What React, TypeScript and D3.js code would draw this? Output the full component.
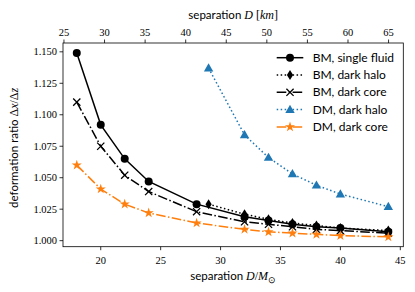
import React from "react";
import * as d3 from "d3";

const xBM = [18, 20, 22, 24, 28, 32, 34, 36, 38, 40, 44];
const bmSingle = [1.149, 1.092, 1.065, 1.047, 1.029, 1.019, 1.016, 1.013, 1.011, 1.010, 1.007];
const bmCore = [1.110, 1.075, 1.052, 1.039, 1.023, 1.015, 1.013, 1.011, 1.009, 1.008, 1.006];
const dmCore = [1.060, 1.041, 1.029, 1.022, 1.014, 1.009, 1.007, 1.006, 1.005, 1.004, 1.003];
const xHalo = [29, 32, 34, 36, 38, 40, 44];
const bmHalo = [1.029, 1.021, 1.017, 1.014, 1.012, 1.010, 1.008];
const dmHalo = [1.137, 1.084, 1.066, 1.053, 1.044, 1.037, 1.027];

const xTicks = [20, 25, 30, 35, 40, 45];
const kmTicks = [25, 30, 35, 40, 45, 50, 55, 60, 65];
const yTicks = [1.0, 1.025, 1.05, 1.075, 1.1, 1.125, 1.15];
const KM_PER_MSUN = 1.4766;

const BLUE = "#1f77b4";
const ORANGE = "#ff7f0e";

type Series = {
  name: string;
  xs: number[];
  ys: number[];
  color: string;
  dash: string;
  marker: string;
};

const series: Series[] = [
  { name: "BM, single fluid", xs: xBM, ys: bmSingle, color: "#000", dash: "none", marker: "circle" },
  { name: "BM, dark halo", xs: xHalo, ys: bmHalo, color: "#000", dash: "1.5,2.475", marker: "diamond" },
  { name: "BM, dark core", xs: xBM, ys: bmCore, color: "#000", dash: "9.6,2.4,1.5,2.4", marker: "x" },
  { name: "DM, dark halo", xs: xHalo, ys: dmHalo, color: BLUE, dash: "1.5,2.475", marker: "triangle" },
  { name: "DM, dark core", xs: xBM, ys: dmCore, color: ORANGE, dash: "9.6,2.4,1.5,2.4", marker: "star" },
];

const L = 63, R = 403.3, T = 43, B = 246.7;
const x = d3.scaleLinear().domain([16.85, 45.25]).range([L, R]);
const y = d3.scaleLinear().domain([0.9952, 1.157]).range([B, T]);
const xKm = d3.scaleLinear().domain([16.85 * KM_PER_MSUN, 45.25 * KM_PER_MSUN]).range([L, R]);

const SERIF = "'Liberation Serif', serif";
const SANS = "Lato, 'DejaVu Sans', sans-serif";

function Marker({ kind, cx, cy, color }: { kind: string; cx: number; cy: number; color: string }) {
  if (kind === "circle") return <circle cx={cx} cy={cy} r={4} fill={color} />;
  if (kind === "diamond")
    return <path d={`M${cx},${cy - 5}L${cx + 3.1},${cy}L${cx},${cy + 5}L${cx - 3.1},${cy}Z`} fill={color} />;
  if (kind === "x")
    return (
      <path d={`M${cx - 3.6},${cy - 3.6}L${cx + 3.6},${cy + 3.6}M${cx - 3.6},${cy + 3.6}L${cx + 3.6},${cy - 3.6}`} stroke={color} strokeWidth={1.3} fill="none" />
    );
  if (kind === "triangle")
    return <path d={d3.symbol(d3.symbolTriangle, 38)()!} transform={`translate(${cx},${cy + 0.6})`} fill={color} />;
  if (kind === "star")
    return <path d={d3.symbol(d3.symbolStar, 32)()!} transform={`translate(${cx},${cy})`} fill={color} />;
  return null;
}

export default function App() {
  const line = d3.line<[number, number]>().x((d) => x(d[0])).y((d) => y(d[1]));
  const legendRows = [57.7, 75.0, 92.3, 109.6, 126.9];
  return (
    <svg width={415} height={292} style={{ position: "absolute", left: 0, top: 0, background: "#fff" }}>
      {series.map((s) => (
        <g key={s.name}>
          <path
            d={line(s.xs.map((v, i) => [v, s.ys[i]] as [number, number]))!}
            fill="none"
            stroke={s.color}
            strokeWidth={1.5}
            strokeDasharray={s.dash}
          />
          {s.xs.map((v, i) => (
            <Marker key={i} kind={s.marker} cx={x(v)} cy={y(s.ys[i])} color={s.color} />
          ))}
        </g>
      ))}
      <rect x={L} y={T} width={R - L} height={B - T} fill="none" stroke="#000" strokeWidth={0.8} />
      {xTicks.map((t) => (
        <g key={"xb" + t}>
          <line x1={x(t)} x2={x(t)} y1={B} y2={B + 3.5} stroke="#000" strokeWidth={0.8} />
          <text x={x(t)} y={B + 17} textAnchor="middle" fontFamily={SERIF} fontSize={10.5}>{t}</text>
        </g>
      ))}
      <text x={(L + R) / 2} y={280} textAnchor="middle" fontFamily={SANS} fontSize={11.5}>
        separation <tspan fontFamily={SERIF} fontStyle="italic" fontSize={12}>D</tspan>
        <tspan fontFamily={SERIF} fontSize={12}>/</tspan>
        <tspan fontFamily={SERIF} fontStyle="italic" fontSize={12}>M</tspan>
        <tspan fontFamily={SERIF} fontSize={8.5} dy={2.5}>⊙</tspan>
      </text>
      {kmTicks.map((t) => (
        <g key={"xt" + t}>
          <line x1={xKm(t)} x2={xKm(t)} y1={T} y2={T - 3.5} stroke="#000" strokeWidth={0.8} />
          <text x={xKm(t)} y={T - 7} textAnchor="middle" fontFamily={SERIF} fontSize={10.5}>{t}</text>
        </g>
      ))}
      <text x={(L + R) / 2} y={19} textAnchor="middle" fontFamily={SANS} fontSize={11.5}>
        separation <tspan fontFamily={SERIF} fontStyle="italic" fontSize={12}>D</tspan>
        <tspan fontFamily={SERIF} fontSize={12}> [</tspan>
        <tspan fontFamily={SERIF} fontStyle="italic" fontSize={12}>km</tspan>
        <tspan fontFamily={SERIF} fontSize={12}>]</tspan>
      </text>
      {yTicks.map((t) => (
        <g key={"y" + t}>
          <line x1={L} x2={L - 3.5} y1={y(t)} y2={y(t)} stroke="#000" strokeWidth={0.8} />
          <text x={L - 6} y={y(t) + 3.6} textAnchor="end" fontFamily={SERIF} fontSize={10.5}>{t.toFixed(3)}</text>
        </g>
      ))}
      <text transform={`translate(17.5,${(T + B) / 2 + 3}) rotate(-90)`} textAnchor="middle" fontFamily={SANS} fontSize={11.5}>
        deformation ratio <tspan fontFamily={SERIF} fontSize={12}>Δ</tspan>
        <tspan fontFamily={SERIF} fontStyle="italic" fontSize={12}>x</tspan>
        <tspan fontFamily={SERIF} fontSize={12}>/Δ</tspan>
        <tspan fontFamily={SERIF} fontStyle="italic" fontSize={12}>z</tspan>
      </text>
      {series.map((s, i) => (
        <g key={"lg" + s.name}>
          <line x1={276.7} x2={303.3} y1={legendRows[i]} y2={legendRows[i]} stroke={s.color} strokeWidth={1.5} strokeDasharray={s.dash} />
          <Marker kind={s.marker} cx={290} cy={legendRows[i]} color={s.color} />
          <text x={312.7} y={legendRows[i] + 4} fontFamily={SANS} fontSize={12}>{s.name}</text>
        </g>
      ))}
    </svg>
  );
}
